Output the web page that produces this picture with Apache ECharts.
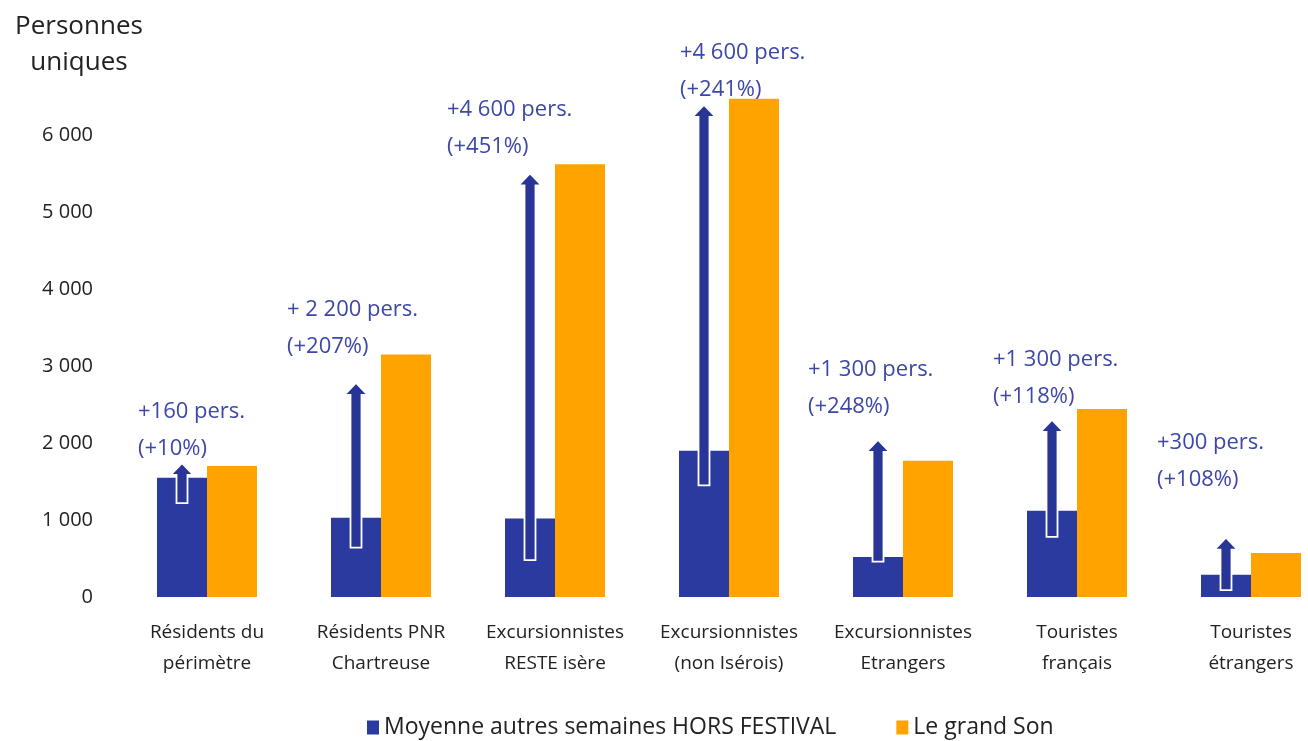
<!DOCTYPE html>
<html>
<head>
<meta charset="utf-8">
<script src="https://cdn.jsdelivr.net/npm/echarts@6/dist/echarts.min.js"></script>
<style>
  html, body { margin: 0; padding: 0; background: #fff; }
  #main { width: 1308px; height: 741px; }
</style>
</head>
<body>
<div id="main"></div>
<script>
// chart values
var categories = [
  "Résidents du\npérimètre",
  "Résidents PNR\nChartreuse",
  "Excursionnistes\nRESTE isère",
  "Excursionnistes\n(non Isérois)",
  "Excursionnistes\nEtrangers",
  "Touristes\nfrançais",
  "Touristes\nétrangers"
];
var seriesNames = ["Moyenne autres semaines HORS FESTIVAL", "Le grand Son"];
var horsFestival = [1550, 1030, 1020, 1900, 520, 1120, 290];
var grandSon = [1700, 3150, 5620, 6470, 1770, 2440, 570];
// arrows: start / tip values
var arrowFrom = [1220, 640, 480, 1450, 460, 780, 90];
var arrowTo = [1740, 2780, 5500, 6390, 2040, 2300, 770];
var gainLabels = [
  "+160 pers.\n(+10%)",
  "+ 2 200 pers.\n(+207%)",
  "+4 600 pers.\n(+451%)",
  "+4 600 pers.\n(+241%)",
  "+1 300 pers.\n(+248%)",
  "+1 300 pers.\n(+118%)",
  "+300 pers.\n(+108%)"
];
// value where the label's bottom sits
var labelAt = [1680, 3010, 5610, 6350, 2230, 2360, 1285];
var yTicks = [0, 1000, 2000, 3000, 4000, 5000, 6000];

var BLUE = "#2B3A9E";
var ARROW = "#283597";
var ORANGE = "#FFA300";
var TXT = "#3D47A8";
var FONT = "Open Sans";

// label shift (px) from the blue bar's left edge
var labelDx = [-19, -44, -58, 1, -45, -34, -44];

var chartDom = document.getElementById("main");
var myChart = echarts.init(chartDom);

function renderArrow(params, api) {
  var i = api.value(0);
  var base = api.coord([i, api.value(1)]);
  var tip = api.coord([i, api.value(2)]);
  var lab = api.coord([i, api.value(3)]);
  var cx = base[0] - 25;
  var sw = 5.5, hw = 11.5, hh = 12;
  var y0 = base[1], y1 = tip[1];
  return {
    type: "group",
    children: [
      {
        type: "polygon",
        shape: {
          points: [
            [cx - sw, y0], [cx + sw, y0], [cx + sw, y1 + hh],
            [cx + hw, y1 + hh], [cx, y1], [cx - hw, y1 + hh], [cx - sw, y1 + hh]
          ]
        },
        style: { fill: ARROW, stroke: "#ffffff", lineWidth: 1.8 }
      },
      {
        type: "text",
        x: cx - 25 + labelDx[i],
        y: lab[1],
        style: {
          text: gainLabels[i],
          fill: TXT,
          font: "22px '" + FONT + "'",
          lineHeight: 37,
          align: "left",
          verticalAlign: "bottom"
        }
      }
    ]
  };
}

var arrowData = categories.map(function (c, i) {
  return [i, arrowFrom[i], arrowTo[i], labelAt[i]];
});

var option = {
  animation: false,
  textStyle: { fontFamily: FONT },
  // category centres sit on the axis ticks (boundaryGap false)
  grid: { left: 207, right: 57, top: 58, bottom: 144 },
  graphic: [
    {
      type: "text",
      x: 79,
      y: 9,
      style: {
        text: "Personnes\nuniques",
        font: "26px '" + FONT + "'",
        fill: "#222",
        lineHeight: 36,
        align: "center"
      }
    }
  ],
  legend: {
    top: 711,
    left: 362,
    itemWidth: 12,
    itemHeight: 14,
    itemGap: 60,
    icon: "rect",
    textStyle: { fontSize: 23, color: "#222", fontFamily: FONT },
    data: seriesNames
  },
  xAxis: [
    {
      type: "category",
      boundaryGap: false,
      data: categories,
      axisLine: { show: false },
      axisTick: { show: false },
      axisLabel: {
        interval: 0,
        fontSize: 19,
        color: "#222",
        lineHeight: 31,
        margin: 20
      }
    }
  ],
  yAxis: [
    {
      type: "value",
      min: 0,
      max: 7000,
      interval: 1000,
      splitLine: { show: false },
      axisLine: { show: false },
      axisTick: { show: false },
      axisLabel: {
        margin: 114,
        fontSize: 20,
        color: "#222",
        formatter: function (v) {
          if (yTicks.indexOf(v) < 0) return "";
          return String(v).replace(/\B(?=(\d{3})+(?!\d))/g, " ");
        }
      }
    }
  ],
  series: [
    {
      name: seriesNames[0],
      type: "bar",
      barWidth: 50,
      barGap: "0%",
      clip: false,
      data: horsFestival,
      itemStyle: { color: BLUE }
    },
    {
      name: seriesNames[1],
      type: "bar",
      barWidth: 50,
      barGap: "0%",
      clip: false,
      data: grandSon,
      itemStyle: { color: ORANGE }
    },
    {
      type: "custom",
      renderItem: renderArrow,
      data: arrowData,
      clip: false,
      z: 10,
      silent: true
    }
  ]
};

myChart.setOption(option);
</script>
</body>
</html>
